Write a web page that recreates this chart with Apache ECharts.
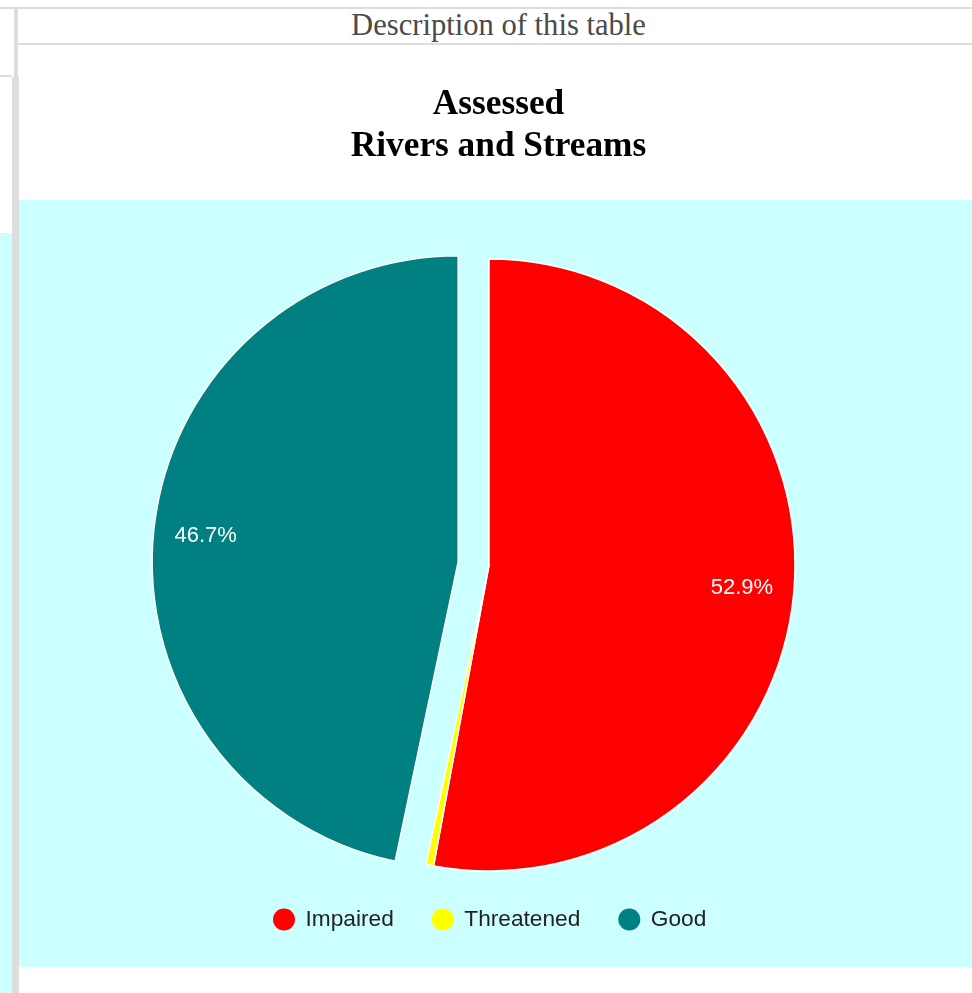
<!DOCTYPE html>
<html>
<head>
<meta charset="utf-8">
<script src="https://cdn.jsdelivr.net/npm/echarts@6/dist/echarts.min.js"></script>
<style>
  body { margin: 0; background: #fff; }
  .line { position: absolute; background: #dddddd; }
  #caption {
    position: absolute; left: 19px; top: 8px; width: 947px; height: 34px; padding-left: 6px;
    text-align: center; font-family: "Liberation Serif", serif; font-size: 30.6px;
    line-height: 34px; color: #4a4a4a;
  }
  #pie {
    position: absolute; left: 19px; top: 45px; width: 953px; height: 922px;
    background: linear-gradient(#ffffff 0, #ffffff 155px, #ccffff 155px, #ccffff 100%);
  }
</style>
</head>
<body>
<div class="line" style="left:0;top:7px;width:972px;height:2px"></div>
<div class="line" style="left:14px;top:9px;width:4px;height:68px"></div>
<div class="line" style="left:12px;top:77px;width:7px;height:916px"></div>
<div class="line" style="left:18px;top:43px;width:954px;height:2px"></div>
<div class="line" style="left:0;top:75px;width:12px;height:2px"></div>
<div style="position:absolute;left:0;top:233px;width:12px;height:760px;background:#ccffff"></div>
<div id="caption">Description of this table</div>
<div id="pie"></div>
<script>
var categories = ['Impaired', 'Threatened', 'Good'];
var values = [52.9, 0.4, 46.7];
var colors = ['#ff0000', '#ffff00', '#008080'];

var dom = document.getElementById('pie');
var myChart = echarts.init(dom);

var radius = 306;
var total = values.reduce(function (a, b) { return a + b; }, 0);

// push the inside labels further out (about 0.82 of the radius)
var acc = 0;
var pieData = values.map(function (v, i) {
    var mid = (acc + v / 2) / total * 2 * Math.PI;
    acc += v;
    var k = 0.32 * radius;
    var off = [k * Math.sin(mid), -k * Math.cos(mid)];
    return {
        name: categories[i],
        value: v,
        selected: categories[i] === 'Good',
        itemStyle: { color: colors[i] },
        label: { offset: off },
        select: { label: { offset: off } }
    };
});

var option = {
    animation: false,
    title: {
        text: 'Assessed\nRivers and Streams',
        left: 474.5,
        top: 34,
        textAlign: 'center',
        textStyle: {
            fontFamily: 'Liberation Serif',
            fontWeight: 'bold',
            fontSize: 35.3,
            lineHeight: 42,
            color: '#000'
        }
    },
    legend: {
        data: categories,
        top: 858,
        left: 249,
        icon: 'circle',
        itemWidth: 33,
        itemHeight: 22,
        itemGap: 38,
        itemStyle: { borderWidth: 0 },
        textStyle: {
            fontFamily: 'Liberation Sans',
            fontSize: 22.7,
            color: '#222'
        }
    },
    series: [
        {
            type: 'pie',
            center: [470, 520],
            radius: radius,
            startAngle: 90,
            clockwise: true,
            selectedMode: 'single',
            selectedOffset: 31,
            percentPrecision: 1,
            minShowLabelAngle: 5,
            avoidLabelOverlap: false,
            itemStyle: {
                borderColor: '#ffffff',
                borderWidth: 1.5
            },
            label: {
                show: true,
                position: 'inside',
                formatter: '{d}%',
                color: '#ffffff',
                fontFamily: 'Liberation Sans',
                fontSize: 22
            },
            emphasis: { scale: false },
            data: pieData
        }
    ]
};
myChart.setOption(option, true);
</script>
</body>
</html>
